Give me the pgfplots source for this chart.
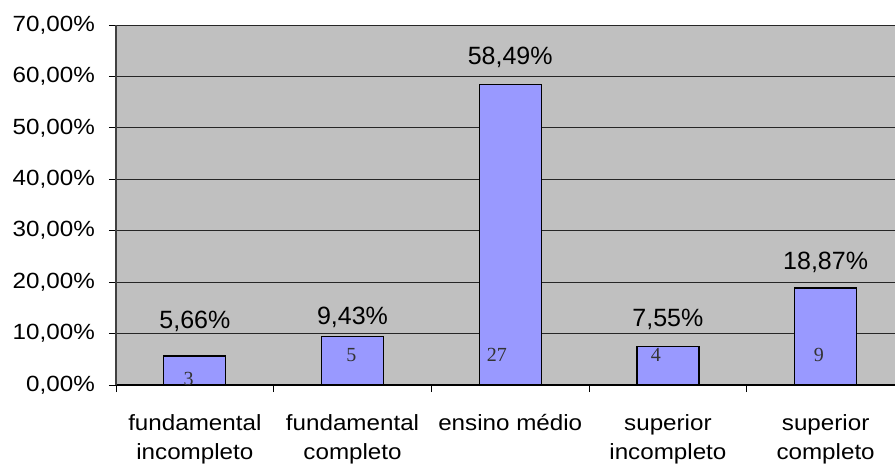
\documentclass[border=0pt]{standalone}
\usepackage{pgfplots}
\pgfplotsset{compat=1.18}
\usepackage{fontspec}
\setmainfont{Liberation Sans}
\newfontfamily\countfont{Liberation Serif}
\definecolor{plotbg}{HTML}{C0C0C0}
\definecolor{barfill}{HTML}{9999FF}
\newcommand{\hs}[1]{\scalebox{1.1}[1]{#1}}

% share of respondents by schooling level (percent)
\pgfplotstableread{
x pct
0 5.66
1 9.43
2 58.49
3 7.55
4 18.87
}\schooling

\begin{document}
\begin{tikzpicture}
\path[use as bounding box] (0,0) rectangle (895pt,466pt);
\begin{axis}[
  at={(116pt,81pt)}, anchor=south west,
  scale only axis, width=779pt, height=360pt,
  xmin=-0.5, xmax=4.44, ymin=0, ymax=70,
  axis x line*=bottom, axis y line*=left,
  axis line style={-},
  x axis line style={black, line width=1.2pt},
  y axis line style={black!75, line width=1.4pt},
  axis background/.style={fill=plotbg},
  ymajorgrids, grid style={black!85, line width=0.9pt},
  tick align=outside, major tick length=7pt,
  tick style={black, line width=0.9pt},
  /pgf/number format/assume math mode=true,
  ytick={0,10,...,70},
  yticklabel={\hs{\pgfmathprintnumber[fixed,fixed zerofill,precision=2,use comma]{\tick}\%}},
  yticklabel style={font=\fontsize{22}{24}\selectfont, inner sep=0pt, anchor=east, xshift=-14pt},
  xtick={-0.5,0.5,1.5,2.5,3.5},
  xticklabels={
    {\hs{fundamental}\\\hs{incompleto}},
    {\hs{fundamental}\\\hs{completo}},
    {\hs{ensino médio}},
    {\hs{superior}\\\hs{incompleto}},
    {\hs{superior}\\\hs{completo}}},
  xticklabel style={align=center, font=\fontsize{22}{29}\selectfont,
    inner sep=0pt, anchor=north, xshift=78.85pt, yshift=-22pt},
  clip=false,
]
% bars
\addplot[ybar, bar width=62pt, fill=barfill, draw=black, line width=1.3pt]
  table[x=x, y=pct] {\schooling};
% percentage labels above the bars
\addplot[draw=none, mark=none, nodes near coords, point meta=explicit symbolic,
  every node near coord/.append style={anchor=base, inner sep=0pt,
    font=\fontsize{25}{25}\selectfont, black}]
  coordinates {(0,11.08)[5,66\%] (1,11.67)[9,43\%] (2,62.36)[58,49\%]
               (3,11.47)[7,55\%] (4,22.55)[18,87\%]};
% respondent counts inside the bars
\addplot[draw=none, mark=none, nodes near coords, point meta=explicit symbolic,
  every node near coord/.append style={anchor=base, inner sep=0pt,
    font=\countfont\fontsize{20}{20}\selectfont, black!80}]
  coordinates {(-0.04,-0.1)[3] (0.993,4.53)[5] (1.916,4.53)[27]
               (2.924,4.53)[4] (3.958,4.53)[9]};
\end{axis}
\end{tikzpicture}
\end{document}
